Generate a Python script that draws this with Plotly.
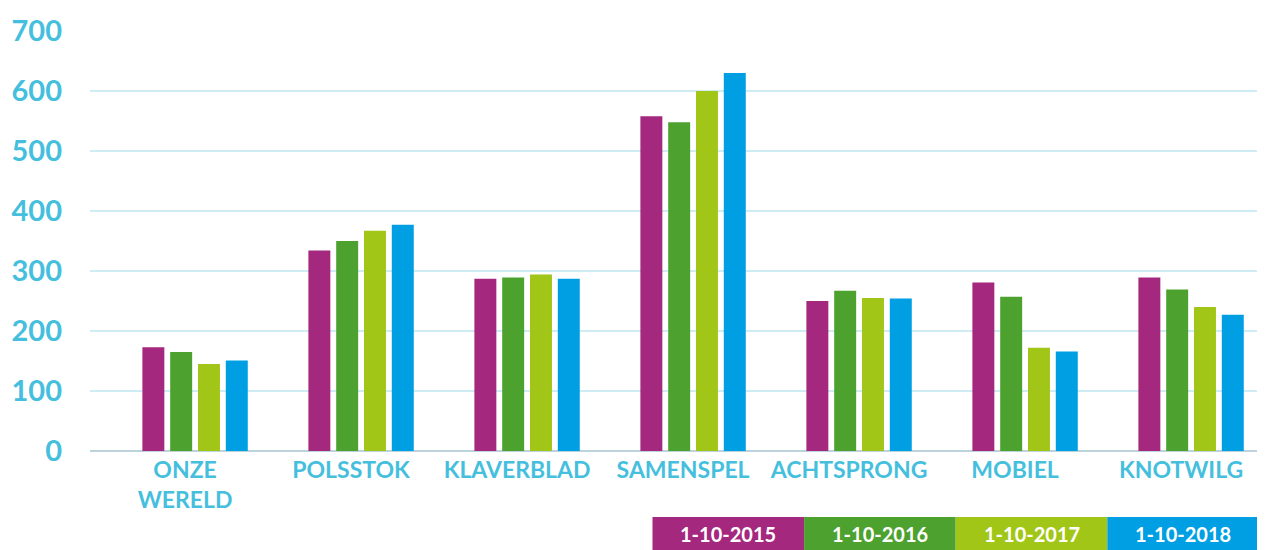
import plotly.graph_objects as go

categories = ["ONZE<br>WERELD", "POLSSTOK", "KLAVERBLAD", "SAMENSPEL", "ACHTSPRONG", "MOBIEL", "KNOTWILG"]
series_names = ["1-10-2015", "1-10-2016", "1-10-2017", "1-10-2018"]
v2015 = [173, 334, 287, 558, 250, 281, 289]
v2016 = [165, 350, 289, 548, 267, 257, 269]
v2017 = [145, 367, 294, 600, 255, 172, 240]
v2018 = [151, 377, 287, 630, 254, 166, 227]
y_ticks = [0, 100, 200, 300, 400, 500, 600, 700]

series_values = [v2015, v2016, v2017, v2018]
colors = ["#A5287F", "#4DA22F", "#A2C617", "#009FE3"]
label_color = "#45BFDD"
FONT = "Lato"

fig = go.Figure()
for name, vals, col in zip(series_names, series_values, colors):
    fig.add_trace(go.Bar(x=list(range(len(categories))), y=vals, name=name,
                         marker=dict(color=col, line=dict(width=0)), showlegend=False))

# the page places the figure 8px from the top-left corner
OFF = 8
W, H = 1265, 550 - OFF
ml, mr, mt = 90 - OFF, 0, 31 - OFF
plot_bottom = 451 - OFF
mb = H - plot_bottom
pw = W - ml - mr
ph = H - mt - mb

# x range chosen so that category centres sit at the same places as before
px_per_cat = 166.0
x_start = -0.633
x_end = x_start + pw / px_per_cat

fig.update_layout(
    width=W, height=H,
    margin=dict(l=ml, r=mr, t=mt, b=mb),
    paper_bgcolor="white", plot_bgcolor="white",
    barmode="group", bargap=0.33, bargroupgap=0.21,
    font=dict(family=FONT, color=label_color),
)
fig.update_xaxes(
    tickmode="array", tickvals=list(range(len(categories))), ticktext=categories,
    range=[x_start, x_end], showgrid=False, zeroline=False, showline=False,
    tickfont=dict(family=FONT, size=23, color=label_color, weight="bold"),
    ticks="", ticklabelstandoff=3, ticklabelshift=-10,
)
fig.update_yaxes(
    range=[0, 700], tickvals=y_ticks, showgrid=True, gridcolor="#CFEBF3", gridwidth=2,
    zeroline=True, zerolinecolor="#BCD3DB", zerolinewidth=2, showline=False,
    tickfont=dict(family=FONT, size=29, color=label_color, weight="bold"),
    ticks="", ticklabelstandoff=27,
)

# legend boxes at the bottom right
leg_x0 = 652.5 - OFF
leg_w = 151.6
leg_top = 517 - OFF
leg_bot = H
for i, (name, col) in enumerate(zip(series_names, colors)):
    x0 = (leg_x0 + i * leg_w - ml) / pw
    x1 = (leg_x0 + (i + 1) * leg_w - ml) / pw
    y0 = -(leg_bot - (mt + ph)) / ph
    y1 = -(leg_top - (mt + ph)) / ph
    fig.add_shape(type="rect", xref="paper", yref="paper", x0=x0, x1=x1, y0=y0, y1=y1,
                  fillcolor=col, line=dict(width=0), layer="above")
    fig.add_annotation(xref="paper", yref="paper", x=(x0 + x1) / 2, y=(y0 + y1) / 2,
                       text=name, showarrow=False, xanchor="center", yanchor="middle",
                       font=dict(family=FONT, size=20, color="white", weight="bold"))

fig.write_html("out.html")
